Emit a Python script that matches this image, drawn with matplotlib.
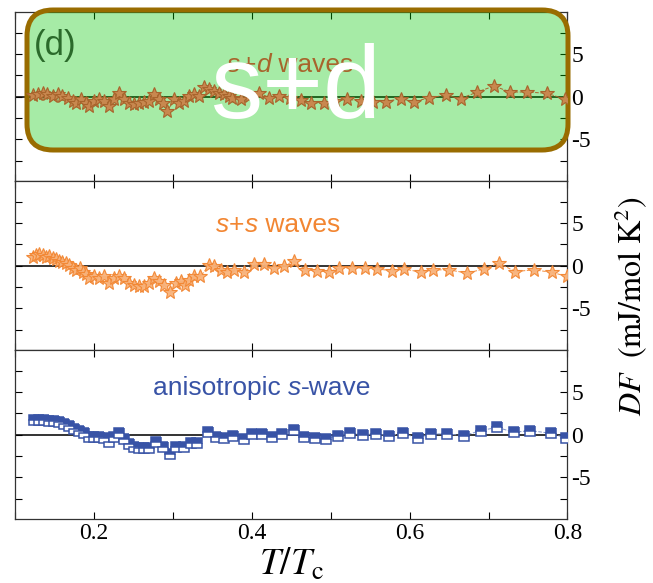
import numpy as np
import matplotlib.pyplot as plt
from matplotlib.patches import FancyBboxPatch
from matplotlib.offsetbox import TextArea, HPacker, AnchoredOffsetbox

plt.rcParams['axes.unicode_minus'] = False
plt.rcParams['mathtext.fontset'] = 'stix'

# --- data ---
# s+d waves (top panel)
T_sd = [0.1224, 0.1287, 0.135, 0.141, 0.148, 0.154, 0.160, 0.167, 0.173, 0.177,
        0.184, 0.190, 0.194, 0.200, 0.207, 0.213, 0.219, 0.226, 0.232, 0.238,
        0.245, 0.251, 0.257, 0.264, 0.270, 0.276, 0.283, 0.287, 0.293, 0.302,
        0.308, 0.314, 0.321, 0.327, 0.333, 0.340, 0.346, 0.352, 0.359, 0.365,
        0.371, 0.3755, 0.386, 0.397, 0.409, 0.422, 0.4346, 0.448, 0.462, 0.4747,
        0.4915, 0.506, 0.521, 0.538, 0.554, 0.5696, 0.589, 0.6055, 0.6245, 0.6456,
        0.6646, 0.6857, 0.7067, 0.7278, 0.749, 0.774, 0.7975]
DF_sd = [0.15, 0.27, 0.39, 0.27, 0.08, 0.27, 0.08, -0.12, -0.5, -0.7,
         -0.31, -0.7, -1.08, -0.5, -0.31, -0.5, -1.08, -0.31, 0.39, -0.23,
         -0.7, -0.89, -0.7, -0.62, -0.5, 0.27, -0.31, -0.7, -1.67, -0.31,
         -0.7, -0.5, 0.08, 0.27, 0.08, 1.16, 0.93, 0.66, 0.47, 0.27,
         0.08, -0.12, -0.31, 0.1, 0.47, -0.12, 0.08, -0.2, -0.39, -0.7,
         -0.78, -0.5, -0.31, -0.5, -0.6, -0.58, -0.23, -0.62, -0.12, 0.15,
         -0.23, 0.54, 1.24, 0.54, 0.54, 0.39, -0.31]

# s+s waves (middle panel)
T_ss = [0.1224, 0.1266, 0.131, 0.135, 0.1393, 0.1435, 0.148, 0.152, 0.156, 0.160,
        0.165, 0.169, 0.173, 0.177, 0.182, 0.186, 0.190, 0.194, 0.200, 0.207,
        0.213, 0.219, 0.226, 0.232, 0.238, 0.245, 0.251, 0.257, 0.264, 0.270,
        0.276, 0.283, 0.289, 0.297, 0.304, 0.310, 0.316, 0.321, 0.327, 0.335,
        0.346, 0.352, 0.361, 0.369, 0.3776, 0.390, 0.403, 0.4156, 0.428, 0.441,
        0.4535, 0.468, 0.483, 0.498, 0.5105, 0.527, 0.544, 0.559, 0.578, 0.593,
        0.614, 0.629, 0.650, 0.673, 0.694, 0.713, 0.734, 0.757, 0.780, 0.7996]
DF_ss = [1.05, 1.24, 1.32, 1.24, 1.05, 1.16, 0.93, 0.78, 0.54, 0.47,
         0.27, 0.08, -0.3, -0.5, -0.3, -0.7, -1.0, -1.47, -1.28, -1.47,
         -1.28, -2.05, -1.47, -1.28, -1.47, -2.05, -2.25, -2.44, -2.44, -2.05,
         -1.47, -1.86, -2.25, -3.1, -2.05, -1.86, -2.25, -1.67, -1.28, -1.28,
         0.08, -0.1, -0.5, -0.7, -0.5, -0.78, 0.15, 0.15, -0.23, 0.0,
         0.54, -0.5, -0.62, -0.7, -0.31, -0.23, -0.31, -0.39, -0.62, -0.39,
         -0.78, -0.5, -0.5, -0.89, -0.39, 0.27, -0.7, -0.5, -0.78, -1.28]

# anisotropic s-wave (bottom panel)
T_an = [0.1244, 0.131, 0.137, 0.143, 0.150, 0.156, 0.162, 0.169, 0.175, 0.181,
        0.188, 0.194, 0.200, 0.207, 0.213, 0.219, 0.226, 0.232, 0.238, 0.245,
        0.251, 0.257, 0.264, 0.270, 0.279, 0.287, 0.297, 0.304, 0.314, 0.323,
        0.331, 0.344, 0.355, 0.365, 0.376, 0.390, 0.400, 0.413, 0.4255, 0.4382,
        0.453, 0.4656, 0.480, 0.4945, 0.509, 0.524, 0.541, 0.558, 0.574, 0.591,
        0.610, 0.627, 0.648, 0.669, 0.690, 0.711, 0.732, 0.753, 0.779, 0.798]
DF_an = [1.7, 1.74, 1.7, 1.63, 1.55, 1.43, 1.24, 1.05, 0.66, 0.47,
         0.16, -0.31, -0.23, -0.23, -0.39, -0.89, -0.31, 0.16, -0.5, -1.08,
         -1.4, -1.55, -1.55, -1.55, -0.89, -1.47, -2.3, -1.4, -1.47, -1.0,
         -1.0, 0.27, -0.23, -0.39, -0.12, -0.5, 0.08, 0.08, -0.23, 0.08,
         0.54, -0.31, -0.39, -0.5, -0.12, 0.15, 0.0, 0.08, -0.12, 0.15,
         -0.39, 0.08, 0.08, -0.12, 0.47, 0.85, 0.27, 0.47, 0.15, -0.39]

x_ticks = [0.2, 0.4, 0.6, 0.8]
y_ticks = [-5, 0, 5]

orange = '#f28632'
brown = '#a8642c'
blue = '#3853a6'
sans = 'Liberation Sans'


def mixed_label(ax, parts, color, x, y):
    # parts: list of (text, italic) pieces, packed side by side
    areas = [TextArea(t, textprops=dict(color=color, fontsize=19, family=sans,
                                        style='italic' if it else 'normal'))
             for t, it in parts]
    pack = HPacker(children=areas, pad=0, sep=0, align='baseline')
    box = AnchoredOffsetbox(loc='center', child=pack, frameon=False, pad=0,
                            borderpad=0, bbox_to_anchor=(x, y),
                            bbox_transform=ax.transAxes)
    box.set_zorder(4)
    ax.add_artist(box)


fig = plt.figure(figsize=(6.53, 5.83), dpi=100)
left, width, h = 0.023, 0.846, 0.2895
bottoms = [0.6895, 0.3997, 0.1098]
axes = [fig.add_axes([left, b, width, h]) for b in bottoms]

for ax in axes:
    ax.set_xlim(0.1, 0.8)
    ax.set_ylim(-9.9, 9.9)
    ax.axhline(0, color='#333333', lw=1.4, zorder=1)
    ax.yaxis.tick_right()
    ax.tick_params(which='both', direction='in', top=True, bottom=True,
                   left=True, right=True, labelleft=False, length=5,
                   width=0.8, labelsize=17, pad=3)
    ax.set_xticks(x_ticks)
    ax.set_xticks(np.arange(0.1, 0.81, 0.1), minor=True)
    ax.set_yticks(y_ticks)
    ax.set_yticks([-7.5, -2.5, 2.5, 7.5], minor=True)
    for lab in ax.get_yticklabels() + ax.get_xticklabels():
        lab.set_fontfamily('Liberation Serif')
    for sp in ax.spines.values():
        sp.set_linewidth(0.9)
        sp.set_color('#333333')

for ax in axes[:2]:
    ax.tick_params(labelbottom=False)

ax1, ax2, ax3 = axes

ax1.plot(T_sd, DF_sd, ls='--', lw=0.7, color=brown, marker='*', ms=10,
         mfc='#c8884f', mec=brown, mew=0.8, zorder=3)
ax2.plot(T_ss, DF_ss, ls='--', lw=0.7, color=orange, marker='*', ms=10,
         mfc='#f8b27a', mec=orange, mew=0.8, alpha=0.95, zorder=3)
ax3.plot(T_an, DF_an, ls='--', lw=0.7, color='#7f93c8', marker='s', ms=7.5,
         fillstyle='top', mfc=blue, mfcalt='white', mec=blue, mew=1.1, zorder=3)

mixed_label(ax1, [('s', True), ('+', False), ('d', True), (' waves', False)],
            brown, 0.498, 0.69)
mixed_label(ax2, [('s', True), ('+', False), ('s', True), (' waves', False)],
            orange, 0.476, 0.74)
mixed_label(ax3, [('anisotropic ', False), ('s', True), ('-wave', False)],
            blue, 0.447, 0.775)

ax3.set_xlabel(r'$T/T_\mathrm{c}$', fontsize=27, labelpad=2)
fig.text(0.965, 0.475, r'$DF\ \ (\mathrm{mJ/mol\ K^2})$', rotation=90,
         ha='center', va='center', fontsize=23)

# green highlight box over the top panel
box = FancyBboxPatch((0.27, 4.33), 5.41, 1.40,
                     boxstyle='round,pad=0,rounding_size=0.26',
                     transform=fig.dpi_scale_trans, clip_on=False,
                     facecolor=(0.0, 0.78, 0.0, 0.35), edgecolor='#996c00',
                     lw=3.6, zorder=2.6)
ax1.add_patch(box)
fig.text(0.052, 0.905, '(d)', color='#2b6a2b', fontsize=25, family=sans,
         ha='left', va='baseline', zorder=5)
fig.text(0.452, 0.798, 's+d', color='white', fontsize=75, family=sans,
         ha='center', va='baseline', zorder=6)

fig.savefig('out.png', dpi=100)
